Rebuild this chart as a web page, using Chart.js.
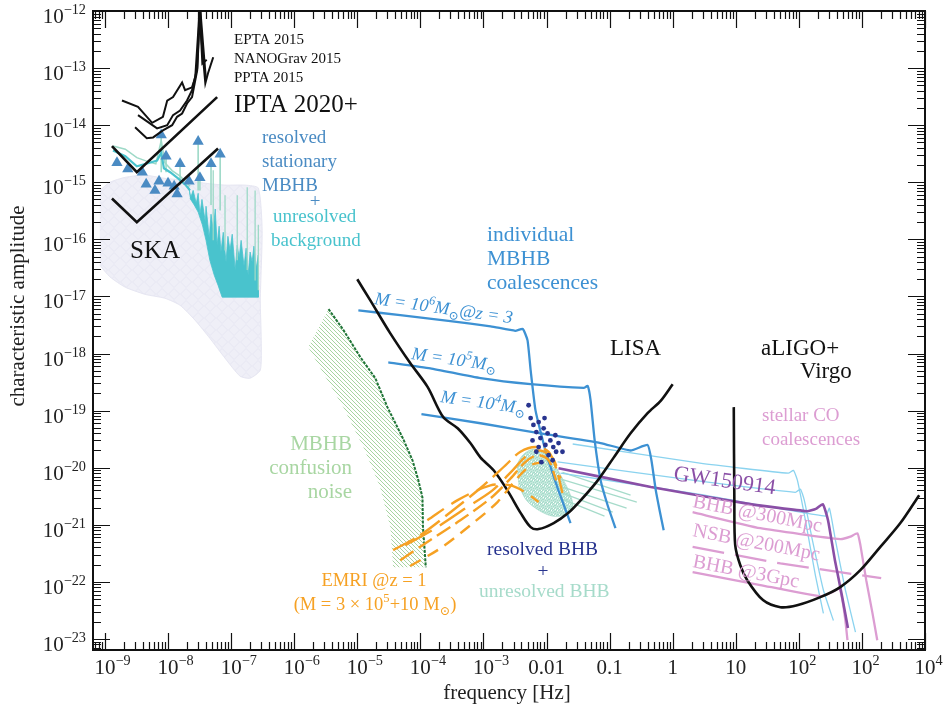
<!DOCTYPE html>
<html>
<head>
<meta charset="utf-8">
<script src="https://cdn.jsdelivr.net/npm/chart.js@4/dist/chart.umd.min.js"></script>
<style>
  html, body { margin: 0; padding: 0; background: #fff; }
  #wrap { width: 945px; height: 715px; }
</style>
</head>
<body>
<div id="wrap"><canvas id="c" width="945" height="715"></canvas></div>
<script>
// ---------- axis ranges ----------
const X_MIN = 6.46e-10, X_MAX = 1e4;
const Y_MIN = 6.4e-24, Y_MAX = 1e-12;

// ---------- tick labels ----------
const xTickValues = [1e-9,1e-8,1e-7,1e-6,1e-5,1e-4,1e-3,1e-2,1e-1,1,10,100,1000,10000];
const xTickLabels = [['10','−9'],['10','−8'],['10','−7'],['10','−6'],['10','−5'],['10','−4'],['10','−3'],['0.01'],['0.1'],['1'],['10'],['10','2'],['10','2'],['10','4']];
const yTickValues = [1e-12,1e-13,1e-14,1e-15,1e-16,1e-17,1e-18,1e-19,1e-20,1e-21,1e-22,1e-23];
const yTickLabels = [['10','−12'],['10','−13'],['10','−14'],['10','−15'],['10','−16'],['10','−17'],['10','−18'],['10','−19'],['10','−20'],['10','−21'],['10','−22'],['10','−23']];

// ---------- pulsar timing arrays: [frequency Hz, characteristic amplitude] ----------
const ptaEPTA = [[1.86e-9,2.7e-14],[3.34e-9,2.1e-14],[5.6e-9,1.1e-14],[8.3e-9,1.4e-14],[9.7e-9,2.7e-14],[1.2e-8,3.1e-14],[1.67e-8,5.6e-14],[1.86e-8,4.1e-14],[2.4e-8,4.6e-14],[2.7e-8,6.9e-14],[3.0e-8,4.1e-13],[3.2e-8,1.5e-12],[3.4e-8,3.0e-13],[3.9e-8,5.4e-14],[4.3e-8,8.1e-14],[5.2e-8,1.55e-13]];
const ptaNANOGrav = [[3.34e-9,1.5e-14],[6.7e-9,8.8e-15],[9.7e-9,1.0e-14],[1.2e-8,1.5e-14],[1.55e-8,1.8e-14],[2.0e-8,2.7e-14],[2.4e-8,4.1e-14],[2.9e-8,1.0e-13],[3.2e-8,1.3e-12],[3.6e-8,2.5e-13],[4.0e-8,6.1e-14]];
const ptaPPTA = [[3.0e-9,9.2e-15],[4.6e-9,5.9e-15],[5.8e-9,6.1e-15],[8.3e-9,8.1e-15],[1.16e-8,1.0e-14],[1.39e-8,1.4e-14],[1.67e-8,1.6e-14],[2.0e-8,2.4e-14],[2.4e-8,3.1e-14],[2.9e-8,9.2e-14],[3.2e-8,9.1e-13],[3.5e-8,1.2e-13],[4.1e-8,1.4e-13]];
const iptaCurve = [[1.29e-9,4.3e-15],[3.2e-9,1.5e-15],[6.0e-8,3.1e-14]];
const skaCurve = [[1.29e-9,5.2e-16],[3.2e-9,2.0e-16],[6.2e-8,3.9e-15]];

// SKA population region
const skaRegion = [[8.3e-10,7.2e-16],[1.2e-9,1.0e-15],[2.1e-9,1.22e-15],[4.3e-9,1.33e-15],[8.9e-9,1.17e-15],[1.86e-8,1.08e-15],[3.9e-8,9.6e-16],[8.0e-8,8.9e-16],[1.67e-7,8.9e-16],[2.7e-7,7.9e-16],[3.1e-7,1.44e-16],[2.9e-7,8.6e-18],[3.0e-7,1.7e-18],[2.9e-7,5.1e-19],[2.0e-7,3.7e-19],[1.39e-7,4.0e-19],[8.0e-8,8.3e-19],[4.6e-8,1.85e-18],[2.7e-8,3.8e-18],[1.55e-8,7.0e-18],[8.9e-9,9.3e-18],[4.3e-9,1.09e-17],[2.1e-9,1.45e-17],[1.2e-9,2.2e-17],[8.3e-10,3.5e-17]];

// resolved stationary MBHBs (triangles) and their stems: [f, top, bottom]
const resolvedMBHB = [[1.55e-9,2.2e-15],[2.3e-9,1.7e-15],[3.9e-9,1.5e-15],[4.5e-9,9.2e-16],[6.2e-9,7.2e-16],[7.2e-9,1.04e-15],[7.8e-9,6.7e-15],[9.3e-9,2.85e-15],[1.0e-8,9.6e-16],[1.25e-8,8.5e-16],[1.39e-8,6.2e-16],[1.55e-8,2.1e-15],[2.15e-8,1.04e-15],[3.0e-8,5.2e-15],[3.2e-8,1.2e-15],[4.8e-8,2.1e-15],[6.7e-8,3.1e-15]];
const resolvedStems = [[7.8e-9,6.7e-15,1.5e-15],[9.3e-9,2.85e-15,1.5e-15],[1.55e-8,2.1e-15,8.9e-16],[3.0e-8,5.2e-15,7.2e-16],[3.2e-8,1.2e-15,7.2e-16],[4.8e-8,2.1e-15,4.0e-16],[6.7e-8,3.1e-15,3.2e-16]];

// unresolved background
const backgroundLine = [[1.34e-9,3.6e-15],[2.1e-9,2.85e-15],[3.2e-9,1.9e-15],[4.8e-9,2.15e-15],[6.7e-9,2.4e-15],[7.8e-9,3.3e-15],[8.6e-9,1.76e-15],[1.08e-8,1.5e-15],[1.44e-8,1.17e-15],[1.86e-8,9.2e-16],[2.23e-8,7.2e-16]];
const backgroundUpper = [[1.34e-9,4.3e-15],[2.1e-9,3.8e-15],[3.2e-9,2.7e-15],[4.8e-9,2.3e-15],[6.4e-9,2.1e-15],[7.8e-9,5.4e-15],[8.9e-9,2.2e-15],[1.16e-8,1.6e-15],[1.55e-8,1.28e-15],[2.23e-8,8.5e-16]];
const backgroundBand = [[2.1e-8,8.5e-16],[2.3e-8,5.5e-16],[2.5e-8,7.2e-16],[2.8e-8,4.3e-16],[3.0e-8,6.4e-16],[3.2e-8,2.75e-16],[3.45e-8,5.0e-16],[3.9e-8,2.0e-16],[4.0e-8,3.8e-16],[4.5e-8,1.05e-16],[4.8e-8,2.75e-16],[5.2e-8,1.44e-16],[5.6e-8,3.4e-16],[6.0e-8,7.9e-17],[6.45e-8,1.7e-16],[6.9e-8,6.0e-17],[7.5e-8,1.33e-16],[8.3e-8,4.0e-17],[8.9e-8,1.13e-16],[9.6e-8,6.4e-17],[1.04e-7,1.23e-16],[1.16e-7,2.9e-17],[1.25e-7,7.9e-17],[1.34e-7,4.7e-17],[1.44e-7,9.6e-17],[1.6e-7,3.4e-17],[1.73e-7,7.0e-17],[1.86e-7,2.35e-17],[2.0e-7,6.0e-17],[2.15e-7,4.0e-17],[2.3e-7,7.6e-17],[2.5e-7,3.1e-17],[2.7e-7,5.3e-17],[2.7e-7,9.7e-18],[7.2e-8,9.7e-18],[6.2e-8,1.57e-17],[5.4e-8,2.35e-17],[4.6e-8,4.3e-17],[4.0e-8,9.6e-17],[3.5e-8,1.8e-16],[3.0e-8,3.0e-16],[2.6e-8,4.0e-16],[2.23e-8,5.2e-16]];
const backgroundSpikes = [[5.2e-8,1.63e-15,9.6e-17],[8.0e-8,5.9e-16,6.4e-17],[1.25e-7,5.9e-16,4.3e-17],[1.8e-7,8.2e-16,2.9e-17],[2.4e-7,7.2e-16,1.9e-17],[2.7e-7,1.8e-16,1.28e-17]];

// MBHB confusion noise band
const confusionEdge = [[3.5e-6,6.0e-18],[6.0e-6,2.6e-18],[1.12e-5,8.6e-19],[1.93e-5,3.7e-19],[3.0e-5,1.15e-19],[5.2e-5,3.4e-20],[7.5e-5,1.35e-20],[9.3e-5,6.0e-21],[1.08e-4,3.0e-21],[1.1e-4,9.1e-22],[1.16e-4,4.1e-22],[1.22e-4,1.8e-22]];
const confusionInner = [[3.7e-5,1.8e-22],[3.34e-5,9.1e-22],[2.3e-5,4.6e-21],[1.25e-5,2.3e-20],[6.0e-6,1.15e-19],[2.9e-6,4.5e-19],[1.67e-6,1.29e-18]];

// detector sensitivities
const lisaCurve = [[1.0e-5,2.0e-17],[1.6e-5,8.6e-18],[3.3e-5,2.3e-18],[6.9e-5,6.8e-19],[1.3e-4,2.6e-19],[2.3e-4,7.7e-20],[3.9e-4,4.9e-20],[6.2e-4,2.7e-20],[9.0e-4,1.5e-20],[1.45e-3,9.0e-21],[2.4e-3,4.0e-21],[3.9e-3,1.6e-21],[5.6e-3,9.1e-22],[7.5e-3,8.4e-22],[1.3e-2,1.07e-21],[2.2e-2,1.6e-21],[3.5e-2,2.7e-21],[6.5e-2,6.0e-21],[0.116,1.5e-20],[0.215,4.0e-20],[0.40,9.0e-20],[0.65,1.5e-19],[1.0,2.9e-19]];
const ligoCurve = [[9.3,1.15e-19],[9.5,2.7e-21],[9.8,4.4e-22],[11.8,1.95e-22],[15.2,1.07e-22],[27,4.8e-23],[51,3.6e-23],[94,3.9e-23],[219,5.4e-23],[454,8.1e-23],[944,1.6e-22],[1960,4.1e-22],[4070,1.07e-21],[8100,3.3e-21]];

// individual MBHB coalescences
const mbhb1e6 = [[1.04e-5,5.7e-18],[4.8e-5,4.7e-18],[3.0e-4,3.7e-18],[1.3e-3,3.0e-18],[3.2e-3,2.5e-18],[4.2e-3,2.7e-18],[5.0e-3,1.7e-18],[5.6e-3,5.1e-19],[6.7e-3,1.0e-19],[9.6e-3,2.0e-20],[1.5e-2,4.4e-21],[2.4e-2,1.07e-21]];
const mbhb1e5 = [[3.1e-5,7.0e-19],[1.44e-4,5.5e-19],[9.0e-4,3.7e-19],[5.6e-3,2.9e-19],[3.9e-2,2.5e-19],[4.5e-2,2.7e-19],[5.0e-2,1.5e-19],[5.8e-2,3.0e-20],[7.2e-2,6.0e-21],[9.3e-2,2.2e-21],[0.124,8.7e-22]];
const mbhb1e4 = [[1.04e-4,8.7e-20],[9.0e-4,6.0e-20],[8.0e-3,4.0e-20],[7.2e-2,2.7e-20],[0.215,2.0e-20],[0.40,2.5e-20],[0.46,1.35e-20],[0.54,4.0e-21],[0.62,1.8e-21],[0.72,8.0e-22]];

// stellar compact-object coalescences
const stellarA = [[2.6e-2,2.6e-20],[2.7,1.2e-20],[68,8.0e-21],[82,9.0e-21],[95,6.0e-21],[127,1.2e-21],[183,1.3e-22],[245,2.8e-23]];
const stellarB = [[1.5e-2,1.26e-20],[2.7,5.8e-21],[88,3.7e-21],[106,4.2e-21],[122,2.7e-21],[164,5.4e-22],[245,7.2e-23],[353,2.1e-23]];
const stellarC = [[1.67e-2,8.0e-21],[2.7,3.4e-21],[264,1.42e-21],[305,1.95e-21],[380,5.4e-22],[547,7.2e-23],[790,1.32e-23]];
const gw150914 = [[1.55e-2,9.8e-21],[0.45,4.6e-21],[17,2.3e-21],[134,1.73e-21],[186,1.9e-21],[240,2.3e-21],[290,1.2e-21],[373,2.4e-22],[480,5.9e-23],[600,1.55e-23]];
const bhb300Mpc = [[2.07,1.66e-21],[24.5,8.7e-22],[456,5.6e-22],[656,6.2e-22],[850,7.1e-22],[946,4.4e-22],[1170,1.07e-22],[1460,2.95e-23],[1750,9.5e-24]];
const nsb200Mpc = [[2.07,4.1e-22],[51,2.1e-22],[2020,1.16e-22]];
const bhb3Gpc = [[2.07,1.48e-22],[24.5,8.8e-23],[219,5.6e-23],[340,6.6e-23],[440,7.7e-23],[490,4.8e-23],[547,2.1e-23],[590,9.5e-24]];

// stellar-mass BHBs in the LISA band
const unresolvedBHBCloud = [[3.34e-3,1.1e-20],[4.2e-3,1.66e-20],[6.0e-3,2.1e-20],[8.6e-3,1.9e-20],[1.25e-2,1.25e-20],[1.67e-2,7.4e-21],[2.23e-2,4.0e-21],[2.6e-2,2.2e-21],[2.1e-2,1.53e-21],[1.25e-2,1.42e-21],[7.5e-3,1.8e-21],[4.8e-3,2.7e-21],[3.6e-3,4.9e-21]];
const unresolvedBHBTracks = [[[1.55e-2,6.5e-21],[0.27,2.5e-21]],[[1.67e-2,4.7e-21],[0.186,1.95e-21]],[[1.67e-2,3.7e-21],[0.112,1.66e-21]],[[1.67e-2,2.9e-21],[0.083,1.42e-21]],[[1.79e-2,8.3e-21],[0.215,3.3e-21]]];
const resolvedBHB = [[5.2e-3,1.24e-19],[5.6e-3,7.4e-20],[6.2e-3,5.6e-20],[6.9e-3,4.2e-20],[8.0e-3,3.3e-20],[9.0e-3,4.9e-20],[1.04e-2,4.0e-20],[1.15e-2,3.0e-20],[1.28e-2,2.3e-20],[1.42e-2,1.9e-20],[9.6e-3,2.5e-20],[7.5e-3,2.3e-20],[1.08e-2,1.66e-20],[1.25e-2,1.35e-20],[8.3e-3,1.25e-20],[6.9e-3,1.9e-20],[1.55e-2,2.7e-20],[1.79e-2,1.9e-20],[6.0e-3,3.0e-20],[9.3e-3,7.4e-20],[7.5e-3,6.3e-20],[1.38e-2,3.7e-20]];

// EMRI tracks
const emriA = [[3.7e-5,3.6e-22],[1.0e-4,6.6e-22],[3.0e-4,1.66e-21],[9.0e-4,4.4e-21],[2.23e-3,1.1e-20],[3.86e-3,1.9e-20],[6.7e-3,2.3e-20],[1.08e-2,1.9e-20],[1.42e-2,9.8e-21],[1.79e-2,3.6e-21]];
const emriB = [[4.8e-5,2.4e-22],[1.44e-4,5.4e-22],[4.3e-4,1.2e-21],[1.29e-3,2.9e-21],[2.7e-3,6.5e-21],[4.6e-3,1.25e-20],[7.2e-3,1.66e-20],[1.08e-2,1.35e-20],[1.42e-2,6.0e-21]];
const emriC = [[6.9e-5,1.9e-22],[2.1e-4,3.9e-22],[6.2e-4,9.8e-22],[1.67e-3,2.5e-21],[3.2e-3,6.0e-21],[5.6e-3,1.1e-20],[8.6e-3,1.25e-20]];
const emriD = [[1.29e-4,1.2e-21],[3.9e-4,2.7e-21],[1.29e-3,4.9e-21],[2.7e-3,4.9e-21],[4.6e-3,3.7e-21],[7.5e-3,2.5e-21]];
const emriE = [[5.8e-5,4.4e-22],[1.73e-4,8.7e-22],[5.2e-4,1.95e-21],[1.39e-3,4.0e-21],[2.9e-3,9.0e-21],[5.0e-3,1.66e-20],[8.0e-3,2.0e-20],[1.25e-2,1.47e-20],[1.67e-2,6.5e-21]];

// ---------- styling ----------
const SERIF = '"Liberation Serif", "DejaVu Serif", serif';
const C = {
  black: '#111111', track: '#3d91d3', tri: '#4a8bc3', cyan: '#49c3cd', aqua: '#9dd9c7',
  lav: '#efeff7', lavEdge: '#e6e6f2', hatch: '#9dcf96', green: '#1f7437', greenText: '#a8d6a2',
  pink: '#dc9dd2', purple: '#8a4fa6', sky: '#8bd3ef', navy: '#28348f', orange: '#f6a123',
  bhbAqua: '#a6dbca', bhbFill: '#c4e9dd'
};

function hatchPattern(color) {
  const c = document.createElement('canvas');
  c.width = 4; c.height = 4;
  const g = c.getContext('2d');
  g.strokeStyle = color; g.lineWidth = 0.9;
  g.beginPath();
  g.moveTo(0, 0); g.lineTo(4, 4);
  g.moveTo(-1, 3); g.lineTo(1, 5);
  g.moveTo(3, -1); g.lineTo(5, 1);
  g.stroke();
  return g.createPattern(c, 'repeat');
}
// overlapping diamond outlines on a pale fill
function diamondPattern(fill, edge) {
  const c = document.createElement('canvas');
  c.width = 12; c.height = 12;
  const g = c.getContext('2d');
  g.fillStyle = fill; g.fillRect(0, 0, 12, 12);
  g.strokeStyle = edge; g.lineWidth = 1;
  g.beginPath();
  g.moveTo(6, 0.5); g.lineTo(11.5, 6); g.lineTo(6, 11.5); g.lineTo(0.5, 6); g.closePath();
  g.stroke();
  return g.createPattern(c, 'repeat');
}
// fine speckle for the dense cloud of sources
function specklePattern(base, dot) {
  const c = document.createElement('canvas');
  c.width = 6; c.height = 6;
  const g = c.getContext('2d');
  g.fillStyle = base; g.fillRect(0, 0, 6, 6);
  g.fillStyle = dot;
  [[0,0],[2,1],[4,0],[1,2],[3,3],[5,2],[0,4],[2,4],[4,5],[5,4],[1,5],[3,1]].forEach(([a, b]) => g.fillRect(a, b, 1, 1));
  g.fillStyle = '#ffffff';
  [[5,0],[1,4],[3,5]].forEach(([a, b]) => g.fillRect(a, b, 1, 1));
  return g.createPattern(c, 'repeat');
}

const pts = a => a.map(([x, y]) => ({x, y}));
function curve(data, color, width, extra) {
  return Object.assign({ type: 'line', data: pts(data), borderColor: color, borderWidth: width,
    pointRadius: 0, fill: false, tension: 0 }, extra || {});
}
function segments(list) {
  const out = [];
  list.forEach(([f, top, bottom]) => { out.push({x: f, y: top}, {x: f, y: bottom}, {x: f, y: null}); });
  return out;
}
function polylines(list) {
  const out = [];
  list.forEach(l => { l.forEach(([x, y]) => out.push({x, y})); out.push({x: l[0][0], y: null}); });
  return out;
}

const datasets = [
  curve(skaRegion, C.lavEdge, 1, { fill: 'shape', backgroundColor: diamondPattern(C.lav, C.lavEdge), tension: 0.2 }),
  curve(backgroundBand, C.cyan, 0.8, { fill: 'shape', backgroundColor: C.cyan }),
  { type: 'line', data: segments(backgroundSpikes), borderColor: C.aqua, borderWidth: 1.3, pointRadius: 0, spanGaps: false },
  curve(backgroundUpper, C.aqua, 1.5),
  { type: 'line', data: segments(resolvedStems), borderColor: C.aqua, borderWidth: 1.6, pointRadius: 0, spanGaps: false },
  curve(backgroundLine, C.cyan, 2.2),
  { type: 'line', data: pts(resolvedMBHB), showLine: false, pointStyle: 'triangle', pointRadius: 6.5,
    pointBackgroundColor: C.tri, pointBorderColor: C.tri, pointBorderWidth: 0 },
  curve(skaCurve, C.black, 2.6),
  curve(iptaCurve, C.black, 2.6),
  curve(ptaEPTA, C.black, 2),
  curve(ptaNANOGrav, C.black, 2),
  curve(ptaPPTA, C.black, 2),
  curve(confusionEdge.concat(confusionInner), C.hatch, 0, { fill: 'shape', backgroundColor: hatchPattern(C.hatch) }),
  curve(confusionEdge, C.green, 2, { borderDash: [3, 1.2] }),
  curve(unresolvedBHBCloud, C.bhbAqua, 0.8, { fill: 'shape', backgroundColor: specklePattern(C.bhbFill, C.bhbAqua), tension: 0.3 }),
  { type: 'line', data: polylines(unresolvedBHBTracks), borderColor: C.bhbAqua, borderWidth: 1.3, pointRadius: 0, spanGaps: false },
  curve(stellarA, C.sky, 1.3, { tension: 0.15 }),
  curve(stellarB, C.sky, 1.3, { tension: 0.15 }),
  curve(stellarC, C.sky, 1.3, { tension: 0.15 }),
  curve(bhb300Mpc, C.pink, 2.3, { tension: 0.15 }),
  curve(nsb200Mpc, C.pink, 2.3, { borderDash: [32, 11] }),
  curve(bhb3Gpc, C.pink, 2.3, { tension: 0.15 }),
  curve(gw150914, C.purple, 2.6, { tension: 0.15 }),
  curve(mbhb1e6, C.track, 2.3, { tension: 0.15 }),
  curve(mbhb1e5, C.track, 2.3, { tension: 0.15 }),
  curve(mbhb1e4, C.track, 2.3, { tension: 0.15 }),
  curve(lisaCurve, C.black, 2.6, { tension: 0.3 }),
  curve(ligoCurve, C.black, 2.6, { tension: 0.3 }),
  curve(emriA, C.orange, 2.4, { tension: 0.3, borderDash: [24, 7] }),
  curve(emriB, C.orange, 2.4, { tension: 0.3, borderDash: [16, 6] }),
  curve(emriC, C.orange, 2.4, { tension: 0.3, borderDash: [12, 8] }),
  curve(emriD, C.orange, 2.4, { tension: 0.3, borderDash: [20, 9] }),
  curve(emriE, C.orange, 2.4, { tension: 0.3, borderDash: [30, 10] }),
  { type: 'line', data: pts(resolvedBHB), showLine: false, pointStyle: 'circle', pointRadius: 2.4,
    pointBackgroundColor: C.navy, pointBorderColor: C.navy, pointBorderWidth: 0 }
];
// first entry sits at the bottom of the stack
datasets.forEach((d, i) => { d.order = datasets.length - i; });

// ---------- text helpers ----------
function rich(ctx, parts, x, y, o) {
  const st = o.italic ? 'italic ' : '';
  const segs = parts.map(p => {
    const [txt, mode] = Array.isArray(p) ? p : [p, ''];
    return { txt, mode, s: mode ? o.size * 0.68 : o.size };
  });
  let w = 0;
  segs.forEach(g => { ctx.font = st + g.s + 'px ' + SERIF; g.w = ctx.measureText(g.txt).width; w += g.w; });
  ctx.save();
  ctx.translate(x, y);
  if (o.rot) ctx.rotate(o.rot * Math.PI / 180);
  let cx = 0;
  if (o.align === 'center') cx = -w / 2;
  else if (o.align === 'right') cx = -w;
  else if (o.align === 'first') cx = -segs[0].w / 2;
  ctx.fillStyle = o.color || C.black;
  ctx.textAlign = 'left'; ctx.textBaseline = 'alphabetic';
  segs.forEach(g => {
    ctx.font = st + g.s + 'px ' + SERIF;
    const dy = g.mode === '^' ? -o.size * 0.42 : g.mode === '_' ? o.size * 0.25 : 0;
    ctx.fillText(g.txt, cx, dy);
    cx += g.w;
  });
  ctx.restore();
}

const labels = [
  { t: ['EPTA 2015'], x: 234, y: 44, size: 15 },
  { t: ['NANOGrav 2015'], x: 234, y: 63, size: 15 },
  { t: ['PPTA 2015'], x: 234, y: 82, size: 15 },
  { t: ['IPTA 2020+'], x: 234, y: 112, size: 25 },
  { t: ['resolved'], x: 262, y: 143, size: 19, color: C.tri },
  { t: ['stationary'], x: 262, y: 167, size: 19, color: C.tri },
  { t: ['MBHB'], x: 262, y: 191, size: 19, color: C.tri },
  { t: ['+'], x: 315, y: 207, size: 19, color: C.tri, align: 'center' },
  { t: ['unresolved'], x: 273, y: 222, size: 19, color: C.cyan },
  { t: ['background'], x: 271, y: 246, size: 19, color: C.cyan },
  { t: ['SKA'], x: 130, y: 258, size: 25 },
  { t: ['individual'], x: 487, y: 241, size: 21.5, color: C.track },
  { t: ['MBHB'], x: 487, y: 265, size: 21.5, color: C.track },
  { t: ['coalescences'], x: 487, y: 289, size: 21.5, color: C.track },
  { t: ['LISA'], x: 610, y: 355, size: 23 },
  { t: ['aLIGO+'], x: 761, y: 355, size: 23 },
  { t: ['Virgo'], x: 800, y: 378, size: 23 },
  { t: ['stellar CO'], x: 762, y: 421, size: 19, color: C.pink },
  { t: ['coalescences'], x: 762, y: 445, size: 19, color: C.pink },
  { t: ['GW150914'], x: 673, y: 480, size: 22, color: C.purple, rot: 8 },
  { t: ['BHB @300Mpc'], x: 692, y: 507, size: 20, color: C.pink, rot: 11 },
  { t: ['NSB @200Mpc'], x: 692, y: 536, size: 20, color: C.pink, rot: 11 },
  { t: ['BHB @3Gpc'], x: 692, y: 567, size: 20, color: C.pink, rot: 11 },
  { t: ['resolved BHB'], x: 487, y: 555, size: 19.5, color: C.navy },
  { t: ['+'], x: 543, y: 577, size: 19.5, color: C.navy, align: 'center' },
  { t: ['unresolved BHB'], x: 479, y: 597, size: 19.5, color: C.bhbAqua },
  { t: ['MBHB'], x: 352, y: 450, size: 21, color: C.greenText, align: 'right' },
  { t: ['confusion'], x: 352, y: 474, size: 21, color: C.greenText, align: 'right' },
  { t: ['noise'], x: 352, y: 498, size: 21, color: C.greenText, align: 'right' },
  { t: ['EMRI @z = 1'], x: 374, y: 586, size: 18.5, color: C.orange, align: 'center' },
  { t: ['(M = 3 × 10', ['5', '^'], '+10 M', ['⊙', '_'], ')'], x: 375, y: 610, size: 18.5, color: C.orange, align: 'center' },
  { t: ['M = 10', ['6', '^'], 'M', ['⊙', '_'], '@z = 3'], x: 374, y: 304, size: 18, color: C.track, rot: 8, italic: true },
  { t: ['M = 10', ['5', '^'], 'M', ['⊙', '_']], x: 411, y: 359, size: 18, color: C.track, rot: 8, italic: true },
  { t: ['M = 10', ['4', '^'], 'M', ['⊙', '_']], x: 440, y: 402, size: 18, color: C.track, rot: 8, italic: true }
];

// ---------- frame, ticks, tick labels, titles ----------
const framePlugin = {
  id: 'frame',
  beforeDraw(chart) {
    const ctx = chart.ctx;
    ctx.save(); ctx.fillStyle = '#fff'; ctx.fillRect(0, 0, chart.width, chart.height); ctx.restore();
  },
  afterDraw(chart) {
    const { ctx, chartArea: a, scales: { x, y } } = chart;
    ctx.save();
    ctx.strokeStyle = C.black;
    ctx.lineWidth = 1.2;
    ctx.beginPath();
    for (let d = -10; d <= 4; d++) {
      for (let k = 1; k <= 9; k++) {
        const v = k * Math.pow(10, d);
        if (v < X_MIN || v > X_MAX * 1.0001) continue;
        const px = Math.round(x.getPixelForValue(v)) + 0.5;
        const len = k === 1 ? 17 : 8;
        ctx.moveTo(px, a.bottom); ctx.lineTo(px, a.bottom - len);
        ctx.moveTo(px, a.top); ctx.lineTo(px, a.top + len);
      }
    }
    for (let d = -24; d <= -12; d++) {
      for (let k = 1; k <= 9; k++) {
        const v = k * Math.pow(10, d);
        if (v < Y_MIN || v > Y_MAX * 1.0001) continue;
        const py = Math.round(y.getPixelForValue(v)) + 0.5;
        const len = k === 1 ? 17 : 8;
        ctx.moveTo(a.left, py); ctx.lineTo(a.left + len, py);
        ctx.moveTo(a.right, py); ctx.lineTo(a.right - len, py);
      }
    }
    ctx.stroke();
    ctx.lineWidth = 2;
    ctx.strokeRect(a.left, a.top, a.right - a.left, a.bottom - a.top);
    ctx.restore();

    labels.forEach(l => rich(ctx, l.t, l.x, l.y, l));

    xTickValues.forEach((v, i) => {
      const px = x.getPixelForValue(v);
      const parts = xTickLabels[i].map((s, j) => j === 0 ? s : [s, '^']);
      rich(ctx, parts, px, 674, { size: 21, align: 'first', color: '#222' });
    });
    yTickValues.forEach((v, i) => {
      const py = y.getPixelForValue(v);
      const parts = yTickLabels[i].map((s, j) => j === 0 ? s : [s, '^']);
      rich(ctx, parts, 86, py + 12, { size: 21, align: 'right', color: '#222' });
    });
    rich(ctx, ['frequency [Hz]'], 507, 699, { size: 21, align: 'center', color: '#222' });
    rich(ctx, ['characteristic amplitude'], 24, 306, { size: 21, align: 'center', color: '#222', rot: -90 });
  }
};

new Chart(document.getElementById('c'), {
  type: 'line',
  data: { datasets },
  options: {
    responsive: false,
    animation: false,
    devicePixelRatio: 1,
    layout: { padding: { left: 93, right: 20, top: 11, bottom: 65 } },
    plugins: { legend: { display: false }, tooltip: { enabled: false } },
    scales: {
      x: { type: 'logarithmic', min: X_MIN, max: X_MAX, display: false },
      y: { type: 'logarithmic', min: Y_MIN, max: Y_MAX, display: false }
    }
  },
  plugins: [framePlugin]
});
</script>
</body>
</html>
